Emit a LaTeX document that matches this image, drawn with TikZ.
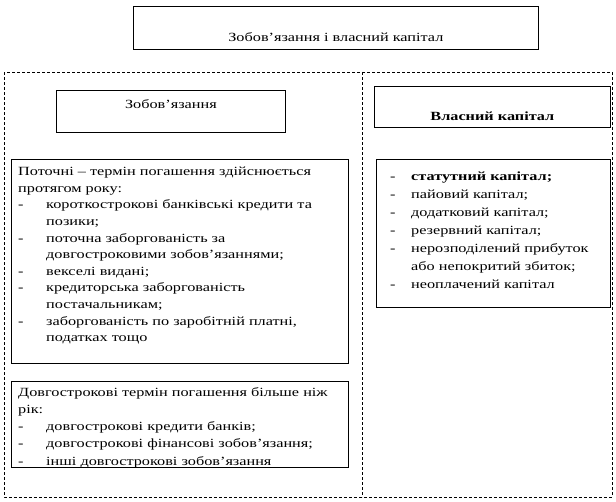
\documentclass[tikz,border=0pt]{standalone}
\usepackage{fontspec}
\setmainfont[FakeStretch=1.3]{Liberation Serif}
\newcommand{\dashitem}[1]{\makebox[28pt][l]{-}#1}
\newcommand{\contline}[1]{\hspace*{28pt}#1}
\newcommand{\rdashitem}[1]{\makebox[21pt][l]{-}#1}
\newcommand{\rcontline}[1]{\hspace*{21pt}#1}
\begin{document}
\begin{tikzpicture}[x=1pt,y=-1pt,
  box/.style={draw, line width=0.8pt, inner sep=0pt, anchor=north west},
  outer/.style={draw, line width=0.8pt, dash pattern=on 3pt off 2pt},
  one/.style={inner sep=0pt, anchor=base, font=\fontsize{12.5}{15}\selectfont},
  txt/.style={inner sep=0pt, align=left, anchor=north west, font=\fontsize{12.5}{16.6}\selectfont},
  rtxt/.style={inner sep=0pt, align=left, anchor=north west, font=\fontsize{12.5}{18}\selectfont},
  btxt/.style={inner sep=0pt, align=left, anchor=north west, font=\fontsize{12.5}{17.25}\selectfont}
]
\useasboundingbox (0,0) rectangle (616,501);
% outer dashed frame
\coordinate (otl) at (4,72);
\coordinate (obr) at (612,497);
\coordinate (dtop) at (362,72);
\coordinate (dbot) at (362,497);
\draw[outer] (otl) rectangle (obr);
\draw[outer] (dtop) -- (dbot);
% title
\node[box, minimum width=405pt, minimum height=43pt] (title) at (133,6) {};
\node[one] (titletxt) at ([yshift=8pt]title.south) {Зобов’язання і власний капітал};
% Zobov'yazannya
\node[box, minimum width=229pt, minimum height=42pt] (zob) at (56,90) {};
\node[one] (zobtxt) at ([yshift=-18pt]zob.north) {Зобов’язання};
% Vlasnyi kapital
\node[box, minimum width=236pt, minimum height=41pt] (vk) at (374,86) {};
\node[one, font=\bfseries\fontsize{12.5}{15}\selectfont] (vktxt) at ([yshift=7pt]vk.south) {Власний капітал};
% Current liabilities
\node[box, minimum width=337pt, minimum height=204.5pt] (cur) at (11,158.5) {};
\node[txt] (curtxt) at ([xshift=7pt,yshift=-8.5pt]cur.north west) {Поточні – термін погашення здійснюється\\
протягом року:\\
\dashitem{короткострокові банківські кредити та}\\
\contline{позики;}\\
\dashitem{поточна заборгованість за}\\
\contline{довгостроковими зобов’язаннями;}\\
\dashitem{векселі видані;}\\
\dashitem{кредиторська заборгованість}\\
\contline{постачальникам;}\\
\dashitem{заборгованість по заробітній платні,}\\
\contline{податках тощо}};
% Equity items
\node[box, minimum width=234pt, minimum height=148.5pt] (eq) at (376,158.5) {};
\node[rtxt] (eqtxt) at ([xshift=14pt,yshift=-13.5pt]eq.north west) {\rdashitem{\textbf{статутний капітал;}}\\
\rdashitem{пайовий капітал;}\\
\rdashitem{додатковий капітал;}\\
\rdashitem{резервний капітал;}\\
\rdashitem{нерозподілений прибуток}\\
\rcontline{або непокритий збиток;}\\
\rdashitem{неоплачений капітал}};
% Long-term liabilities
\node[box, minimum width=337pt, minimum height=86.5pt] (lt) at (11,380.5) {};
\node[btxt] (lttxt) at ([xshift=7pt,yshift=-6.5pt]lt.north west) {Довгострокові термін погашення більше ніж\\
рік:\\
\dashitem{довгострокові кредити банків;}\\
\dashitem{довгострокові фінансові зобов’язання;}\\
\dashitem{інші довгострокові зобов’язання}};
\end{tikzpicture}
\end{document}
